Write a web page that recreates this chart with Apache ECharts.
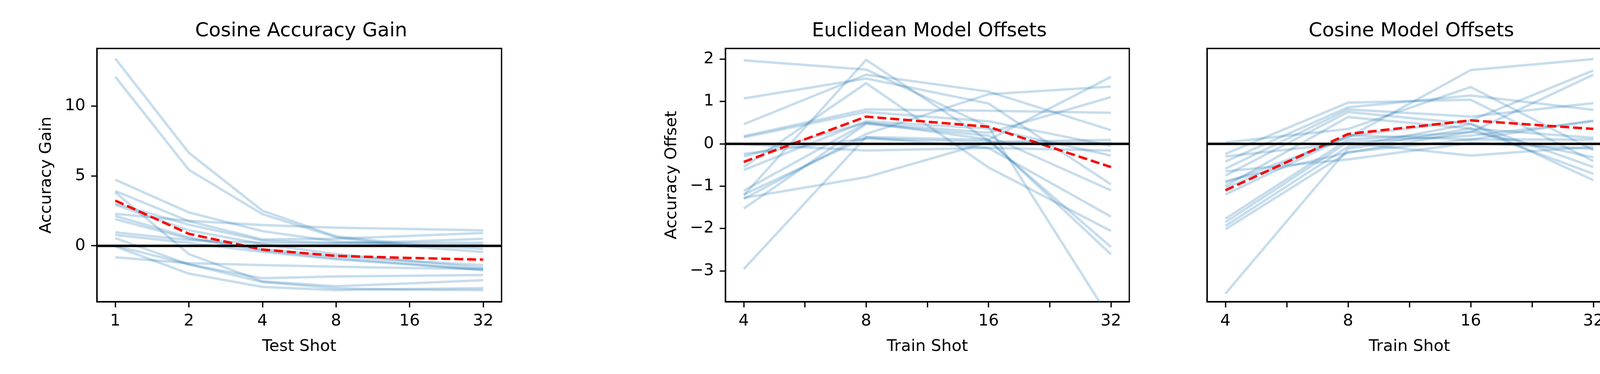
<!DOCTYPE html>
<html>
<head>
<meta charset="utf-8">
<script src="https://cdn.jsdelivr.net/npm/echarts@6/dist/echarts.min.js"></script>
<style>
html,body{margin:0;padding:0;background:#fff;}
#c{width:4170px;height:957px;}
</style>
</head>
<body>
<div id="c"></div>
<script>
// ---------- data ----------
const testShots = [1, 2, 4, 8, 16, 32];
const trainShots = [4, 8, 16, 32];

// Panel 1: Cosine Accuracy Gain (values at test shot 1,2,4,8,16,32)
const gainRuns = [
  [13.4, 6.65, 2.5, 0.67, 0.1, -0.22],
  [12.1, 5.43, 2.26, 0.6, -0.05, -0.45],
  [4.72, 2.38, 1.04, 0.3, 0.05, 0.07],
  [2.28, 1.78, 1.48, 1.29, 1.2, 1.1],
  [3.92, 1.75, 0.45, 0.5, 0.7, 0.91],
  [3.03, 1.5, 0.37, 0.2, 0.3, 0.49],
  [3.83, -0.6, -2.55, -2.9, -2.7, -2.47],
  [-0.05, -2.0, -2.95, -3.18, -3.1, -3.04],
  [0.54, -1.34, -2.33, -2.2, -2.15, -2.1],
  [-0.83, -1.25, -1.39, -1.5, -1.6, -1.67],
  [0.0, -1.34, -2.6, -3.05, -3.15, -3.18],
  [2.93, 1.1, 0.12, -0.6, -1.1, -1.58],
  [2.13, 0.6, -0.35, -0.9, -1.3, -1.77],
  [1.9, 0.5, -0.25, -0.75, -1.1, -1.39],
  [0.96, 0.4, 0.2, 0.15, 0.2, 0.21],
  [0.77, 0.2, -0.45, -0.98, -1.35, -1.7]
];
const gainMean = [3.23, 0.85, -0.28, -0.73, -0.88, -1.0];

// Panel 2: Euclidean Model Offsets (values at train shot 4,8,16,32)
const euclidRuns = [
  [1.97, 1.75, 0.40, -4.16],
  [1.07, 1.54, 0.95, -0.96],
  [-1.22, 1.98, 0.07, -2.44],
  [0.46, 1.63, 1.23, 0.32],
  [-0.55, 1.43, -0.56, -2.06],
  [0.18, 0.81, 0.78, 0.73],
  [0.15, 0.75, 0.53, -0.05],
  [-0.01, -0.16, -0.1, -0.16],
  [-0.24, 0.12, 0.04, 0.09],
  [-0.62, 0.53, 0.36, -0.28],
  [-1.11, 0.49, 0.26, 1.10],
  [-1.30, 0.23, 1.17, 1.35],
  [-1.53, 0.47, 0.19, -1.1],
  [-2.96, 0.16, 0.09, 1.58],
  [-1.28, -0.79, 0.04, 0.02],
  [-1.2, 0.15, -0.1, -1.72],
  [-0.3, 0.5, 0.1, -2.61]
];
const euclidMean = [-0.43, 0.64, 0.40, -0.55];

// Panel 3: Cosine Model Offsets (values at train shot 4,8,16,32)
const cosineRuns = [
  [-0.24, 0.97, 1.04, -0.41],
  [0.03, 0.35, 1.34, -0.15],
  [-0.92, 0.15, 1.74, 2.0],
  [-0.42, 0.86, 1.14, 0.8],
  [-0.59, 0.81, 0.64, 0.96],
  [-0.75, 0.75, 0.47, -0.55],
  [-1.0, 0.63, 0.36, -0.71],
  [-1.2, 0.18, 0.55, 1.73],
  [-1.77, 0.10, 0.27, 1.63],
  [-1.85, 0.04, 0.19, 0.53],
  [-1.94, -0.07, 0.47, -0.86],
  [-2.02, -0.2, 0.10, 0.10],
  [-3.54, -0.12, 0.36, 0.14],
  [-0.3, 0.02, -0.28, -0.07],
  [-0.65, -0.37, 0.02, -0.12],
  [-0.88, -0.21, 0.29, -0.32],
  [-1.05, 0.2, 0.1, 0.55]
];
const cosineMean = [-1.1, 0.23, 0.55, 0.35];

const gainTicks = [0, 5, 10];
const offsetTicks = [-3, -2, -1, 0, 1, 2];

const titles = ['Cosine Accuracy Gain', 'Euclidean Model Offsets', 'Cosine Model Offsets'];
const xNames = ['Test Shot', 'Train Shot', 'Train Shot'];
const yNames = ['Accuracy Gain', 'Accuracy Offset', ''];

// ---------- layout / style ----------
const FONT = 'DejaVu Sans';
const TICK_FS = 41.7, TITLE_FS = 50;
const SPINE = 3.3, TICKLEN = 14.6;
const LW = 6.25;
const BLUE = 'rgba(31,119,180,0.25)';
const grids = [
  {left: 248, top: 124, width: 1036, height: 648},
  {left: 1857, top: 124, width: 1034, height: 648},
  {left: 3090, top: 124, width: 1036, height: 648}
];

const log2 = v => Math.log2(v);

function xAxisFor(i) {
  const isGain = i === 0;
  const major = isGain ? testShots.map(log2) : trainShots.map(log2);
  let ticks = major.slice();
  if (!isGain) {
    ticks = [];
    for (let k = 0; k < major.length; k++) {
      ticks.push(major[k]);
      if (k < major.length - 1) ticks.push((major[k] + major[k + 1]) / 2);
    }
  }
  return {
    type: 'value', gridIndex: i,
    min: isGain ? -0.25 : 1.85, max: isGain ? 5.25 : 5.15,
    name: xNames[i], nameLocation: 'middle', nameGap: 94,
    nameTextStyle: {fontFamily: FONT, fontSize: TICK_FS, color: '#000'},
    axisLine: {show: true, onZero: false, lineStyle: {color: '#000', width: SPINE}},
    axisTick: {show: true, length: TICKLEN, inside: false, customValues: ticks, lineStyle: {color: '#000', width: SPINE}},
    axisLabel: {show: true, customValues: major, margin: 2 * TICKLEN, fontFamily: FONT, fontSize: TICK_FS, color: '#000',
      formatter: v => String(Math.round(Math.pow(2, v)))},
    splitLine: {show: false}
  };
}

function yAxisFor(i) {
  const isGain = i === 0;
  const showTicks = i !== 2;
  const ticks = isGain ? gainTicks : offsetTicks;
  return {
    type: 'value', gridIndex: i,
    min: isGain ? -4.01 : -3.73, max: isGain ? 14.12 : 2.25,
    name: yNames[i], nameLocation: 'middle', nameGap: isGain ? 108 : 116, nameRotate: 90,
    nameTextStyle: {fontFamily: FONT, fontSize: TICK_FS, color: '#000'},
    axisLine: {show: true, onZero: false, lineStyle: {color: '#000', width: SPINE}},
    axisTick: {show: showTicks, length: TICKLEN, inside: false, customValues: ticks, lineStyle: {color: '#000', width: SPINE}},
    axisLabel: {show: showTicks, customValues: ticks, margin: 2 * TICKLEN, fontFamily: FONT, fontSize: TICK_FS, color: '#000',
      formatter: v => (v < 0 ? '\u2212' + Math.abs(v) : String(v))},
    splitLine: {show: false}
  };
}

const series = [];
function addPanel(i, xs, runs, mean) {
  runs.forEach(r => {
    series.push({
      type: 'line', xAxisIndex: i, yAxisIndex: i, z: 2,
      data: r.map((v, k) => [log2(xs[k]), v]),
      symbol: 'none', silent: true, clip: true,
      lineStyle: {color: BLUE, width: LW, cap: 'butt', join: 'miter'}
    });
  });
  series.push({
    type: 'line', xAxisIndex: i, yAxisIndex: i, z: 3,
    data: [], symbol: 'none', silent: true,
    markLine: {silent: true, symbol: 'none', label: {show: false},
      lineStyle: {color: '#000', width: LW, type: 'solid'},
      data: [{yAxis: 0}]}
  });
  series.push({
    type: 'line', xAxisIndex: i, yAxisIndex: i, z: 4,
    data: mean.map((v, k) => [log2(xs[k]), v]),
    symbol: 'none', silent: true,
    lineStyle: {color: '#ff0000', width: LW, type: [23, 10], cap: 'butt'}
  });
}
addPanel(0, testShots, gainRuns, gainMean);
addPanel(1, trainShots, euclidRuns, euclidMean);
addPanel(2, trainShots, cosineRuns, cosineMean);

const chart = echarts.init(document.getElementById('c'), null, {renderer: 'canvas', width: 4170, height: 957});
chart.setOption({
  animation: false,
  backgroundColor: '#fff',
  title: grids.map((g, i) => ({
    text: titles[i], left: g.left + g.width / 2, top: 50, textAlign: 'center',
    textStyle: {fontFamily: FONT, fontSize: TITLE_FS, fontWeight: 'normal', color: '#000'}
  })),
  grid: grids.map(g => Object.assign({show: true, borderColor: '#000', borderWidth: SPINE, backgroundColor: 'transparent'}, g)),
  xAxis: [0, 1, 2].map(xAxisFor),
  yAxis: [0, 1, 2].map(yAxisFor),
  series: series
});
</script>
</body>
</html>
